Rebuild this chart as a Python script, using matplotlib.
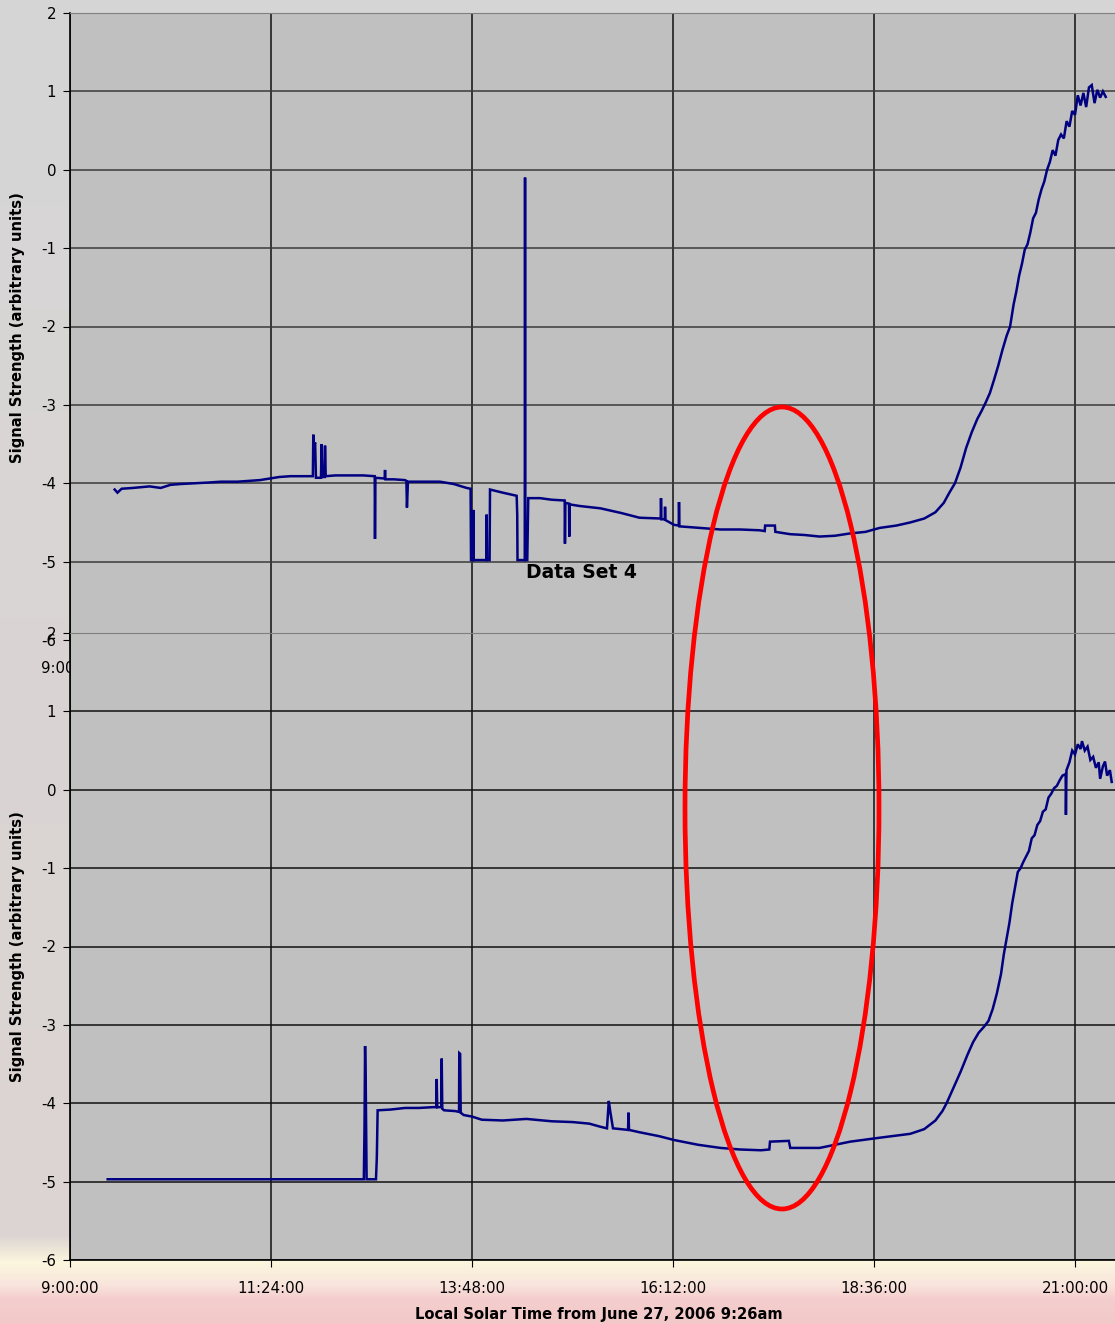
import numpy as np
import matplotlib
matplotlib.use('Agg')
import matplotlib.pyplot as plt
from matplotlib.patches import Ellipse

plt.rcParams['axes.unicode_minus'] = False
plt.rcParams['font.family'] = ['DejaVu Sans']

# time in minutes after 9:00, signal in arbitrary units
top_t = [32, 34, 37, 45, 57, 65, 72, 79, 90, 100, 108, 120, 136, 150, 158, 170,
         174.0, 174.3, 174.9, 175.6, 176.2, 179.8, 180.3, 180.9, 182.4, 182.7, 183.2,
         190, 200, 210, 218.3, 218.5, 218.8, 225.4, 225.7, 226.0, 232, 240.0, 241.0, 241.4,
         242.1, 242.5, 252, 265, 275, 284.2, 287.0, 287.3, 288.7, 288.9, 289.1, 298.3,
         298.5, 298.8, 300.6, 300.9, 310, 320.0, 320.4, 320.6, 325.8, 326.0, 326.2, 327.6,
         328.3, 336.7, 345, 354.4, 354.6, 354.9, 357.5, 357.7, 358.0, 365, 380, 395, 408,
         423.2, 423.4, 423.7, 426.1, 426.3, 426.6, 432.7, 436.1, 436.3, 436.6, 451, 466,
         480, 494, 497.7, 498.0, 505.0, 505.3, 516, 526, 537, 548, 559, 570, 580, 592,
         602, 612, 620, 626, 630, 634, 638, 642, 646, 650, 653, 656, 659, 662, 665, 668,
         671, 673.5, 676, 678, 680, 682, 684, 686, 688, 690, 692, 694, 696, 698, 700, 702,
         704, 706, 708, 710, 712, 714, 716, 718, 720, 722, 724, 726, 728, 730, 732, 734,
         736, 738, 740, 742]
top_v = [-4.08, -4.12, -4.07, -4.06, -4.04, -4.06, -4.02, -4.01, -4.00, -3.99, -3.98, -3.98,
         -3.96, -3.92, -3.91, -3.91,
         -3.91, -3.38, -3.55, -3.48, -3.93, -3.93, -3.50, -3.92, -3.92, -3.52, -3.91,
         -3.90, -3.90, -3.90, -3.91, -4.71, -3.93, -3.94, -3.83, -3.95, -3.95, -3.96, -3.97,
         -4.31, -3.98, -3.98, -3.98, -3.98, -4.01, -4.06, -4.07, -4.98, -4.98, -4.34, -4.98,
         -4.98, -4.40, -4.98, -4.98, -4.08, -4.12, -4.16, -4.40, -4.98, -4.98, -0.10, -4.98,
         -4.98, -4.19, -4.19, -4.21, -4.22, -4.77, -4.25, -4.26, -4.68, -4.27, -4.29, -4.32,
         -4.38, -4.44,
         -4.45, -4.19, -4.46, -4.46, -4.30, -4.47, -4.53, -4.54, -4.24, -4.55, -4.57, -4.59,
         -4.59, -4.60, -4.61, -4.54, -4.54, -4.62, -4.65, -4.66, -4.68, -4.67, -4.64, -4.62,
         -4.57, -4.54,
         -4.50, -4.45, -4.37, -4.25, -4.12, -4.00, -3.80, -3.55, -3.35, -3.18, -3.08, -2.97,
         -2.85, -2.68, -2.50, -2.30, -2.12, -2.00, -1.72, -1.55, -1.35, -1.20, -1.02, -0.95,
         -0.80, -0.62, -0.55, -0.38, -0.25, -0.15, 0.00, 0.10, 0.25, 0.18, 0.38, 0.45, 0.40,
         0.62, 0.55, 0.75, 0.70, 0.95, 0.82, 0.98, 0.80, 1.05, 1.08, 0.85, 1.02, 0.92, 1.00,
         0.93]

bot_t = [27, 210.5, 211.0, 211.4, 211.9, 212.5, 219.2, 219.8, 220.4, 230, 240, 250, 260,
         262.4, 262.7, 263.1, 266.0, 266.3, 266.7, 268, 276, 278.7, 278.9, 279.5, 279.9,
         282, 288, 295, 310, 327, 345, 360, 372, 380, 384.7, 386.0, 387, 389, 399.8, 400.1,
         400.5, 408, 422, 433, 450, 466, 480, 495, 501, 501.5, 515, 516, 537, 559, 580,
         602, 612, 620, 625, 628, 633, 638, 643, 647, 651, 655, 658, 661, 664, 667, 669,
         671, 673, 675, 677, 679, 681, 683, 685, 687, 689, 691, 693, 695, 697, 699, 701,
         703, 705, 707, 709, 711, 713.3, 713.5, 713.9, 716, 718, 720, 722, 724, 725, 727,
         729, 731, 733, 735, 737, 738, 740, 741.5, 743, 745, 746.3]
bot_v = [-4.97, -4.97, -4.30, -3.27, -3.80, -4.97, -4.97, -4.70, -4.09, -4.08, -4.06, -4.06,
         -4.05, -4.05, -3.69, -4.05, -4.05, -3.43, -4.07, -4.09, -4.10, -4.11, -3.36, -3.37,
         -4.12, -4.15, -4.17, -4.21, -4.22, -4.20, -4.23, -4.24, -4.26, -4.30, -4.32, -3.97,
         -4.10, -4.32, -4.34, -4.12, -4.34, -4.37, -4.42, -4.47, -4.53, -4.57, -4.59, -4.60,
         -4.59, -4.49, -4.48, -4.57, -4.57, -4.49, -4.44,
         -4.39, -4.33, -4.22, -4.10, -4.00, -3.80, -3.60, -3.38, -3.22, -3.10, -3.02, -2.95,
         -2.80, -2.60, -2.35, -2.10, -1.90, -1.70, -1.45, -1.25, -1.05, -1.00, -0.92, -0.85,
         -0.78, -0.62, -0.58, -0.45, -0.40, -0.28, -0.25, -0.10, -0.05, 0.02, 0.05, 0.12,
         0.18, 0.20, -0.32, 0.25, 0.35, 0.50, 0.45, 0.58, 0.52, 0.62, 0.50, 0.55, 0.38, 0.42,
         0.28, 0.35, 0.14, 0.30, 0.36, 0.18, 0.25, 0.10]

tick_pos = [0, 144, 288, 432, 576, 720]
tick_lab = ['9:00:00', '11:24:00', '13:48:00', '16:12:00', '18:36:00', '21:00:00']
y_ticks = [2, 1, 0, -1, -2, -3, -4, -5, -6]

W, H = 1115, 1324
fig = plt.figure(figsize=(W / 100, H / 100), dpi=100)

# blurred backdrop: grey on top, cream then pink at the bottom
bg = fig.add_axes([0, 0, 1, 1], zorder=-10)
rows = np.arange(H)
stops = [0, 1235, 1262, 1285, 1298, H]
cols = np.array([[214, 214, 214], [220, 212, 210], [252, 246, 222],
                 [248, 228, 220], [244, 206, 206], [242, 200, 200]]) / 255
img = np.stack([np.interp(rows, stops, cols[:, k]) for k in range(3)], axis=-1)
bg.imshow(img[:, None, :], aspect='auto', extent=[0, 1, 0, 1])
bg.axis('off')

def make_panel(rect, t, v, grid_col):
    ax = fig.add_axes(rect)
    ax.set_facecolor('#c0c0c0')
    ax.plot(t, v, color='#000080', lw=1.8, solid_joinstyle='miter')
    ax.set_xlim(0, (W - 70) * 144 / 201)
    ax.set_ylim(-6, 2)
    ax.set_xticks(tick_pos)
    ax.set_xticklabels(tick_lab)
    ax.set_yticks(y_ticks)
    ax.xaxis.grid(True, color='#111111', lw=1.1)
    ax.yaxis.grid(True, color=grid_col, lw=1.1)
    ax.set_axisbelow(True)
    ax.tick_params(axis='x', direction='out', length=5, pad=10, labelsize=10.8)
    ax.tick_params(axis='y', direction='out', length=5, pad=5, labelsize=10.8)
    ax.spines['right'].set_visible(False)
    ax.spines['top'].set_color('#808080')
    ax.spines['left'].set_linewidth(1.2)
    ax.spines['bottom'].set_linewidth(1.2)
    return ax

ax1 = make_panel([70 / W, 1 - 640 / H, 1045 / W, 627 / H], top_t, top_v, '#3a3a3a')
ax2 = make_panel([70 / W, 1 - 1260 / H, 1045 / W, 627 / H], bot_t, bot_v, '#111111')

ylab = 'Signal Strength (arbitrary units)'
fig.text(18 / W, 1 - 328 / H, ylab, rotation=90, ha='center', va='center',
         fontsize=10.6, fontweight='bold')
fig.text(18 / W, 1 - 947 / H, ylab, rotation=90, ha='center', va='center',
         fontsize=10.6, fontweight='bold')
fig.text(599 / W, 1 - 1315 / H, 'Local Solar Time from June 27, 2006 9:26am',
         ha='center', va='center', fontsize=10.6, fontweight='bold')
fig.text(581 / W, 1 - 572 / H, 'Data Set 4', ha='center', va='center',
         fontsize=13.5, fontweight='bold', zorder=20)

ring = Ellipse((782 / W, 1 - 808 / H), 194 / W, 802 / H, transform=fig.transFigure,
               fill=False, edgecolor='#ff0000', lw=3.4, zorder=30)
fig.add_artist(ring)

fig.savefig('out.png', dpi=100)
